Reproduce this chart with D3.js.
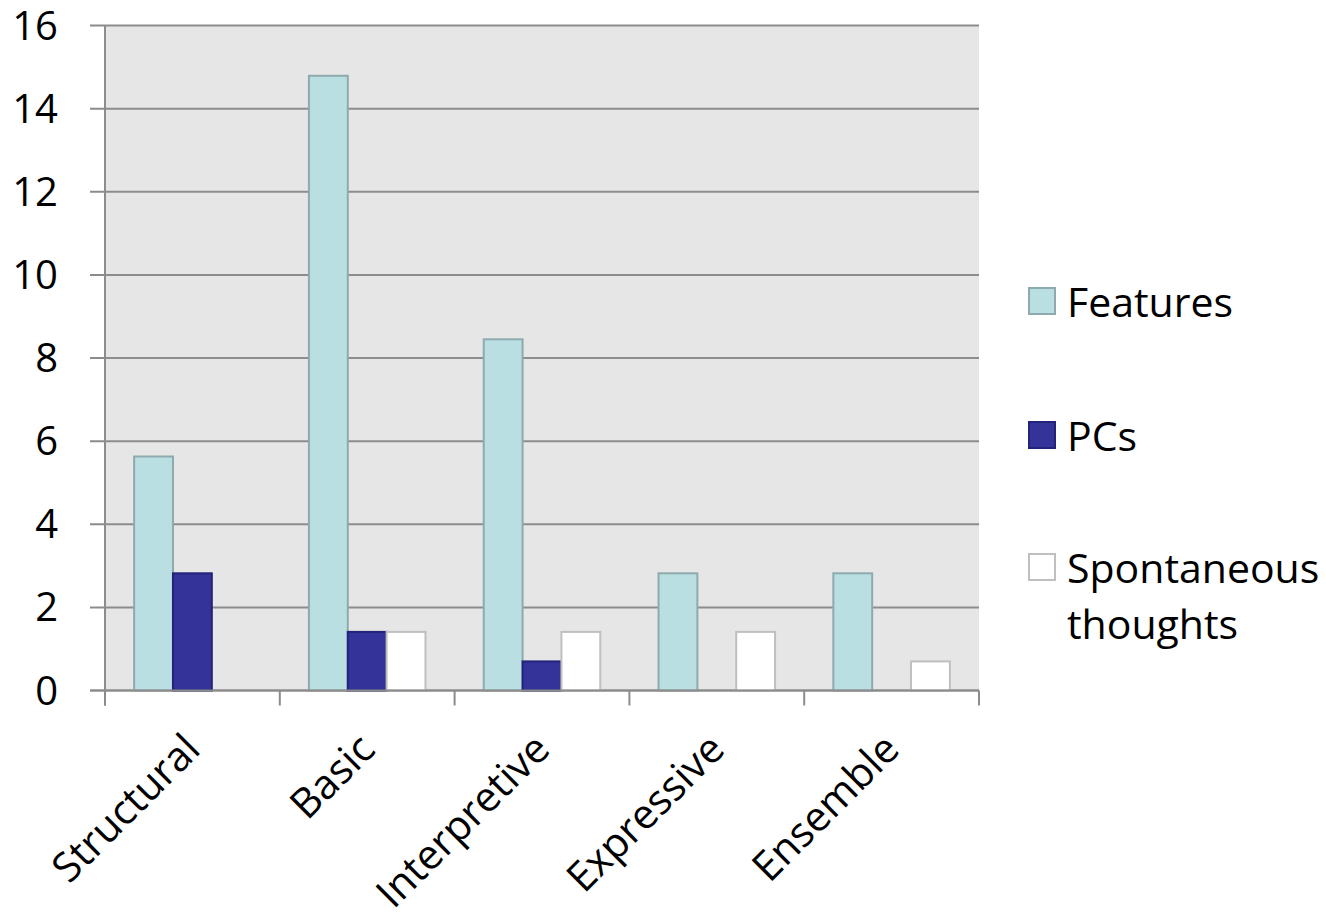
<!DOCTYPE html>
<html>
<head>
<meta charset="utf-8">
<script src="https://cdn.jsdelivr.net/npm/d3@7"></script>
<style>
  html, body { margin: 0; padding: 0; background: #fff; }
  svg { display: block; font-family: "Open Sans", "Noto Sans", sans-serif; }
</style>
</head>
<body>
<svg id="chart" width="1326" height="916"></svg>
<script>
// Categories and series values
const categories = ["Structural", "Basic", "Interpretive", "Expressive", "Ensemble"];
const seriesNames = ["Features", "PCs", "Spontaneous thoughts"];
const features = [5.63, 14.79, 8.45, 2.82, 2.82];
const pcs = [2.82, 1.41, 0.70, 0, 0];
const spontaneous = [0, 1.41, 1.41, 1.41, 0.70];
const yTicks = [0, 2, 4, 6, 8, 10, 12, 14, 16];

const seriesValues = [features, pcs, spontaneous];
const fills = ["#B9DFE2", "#333399", "#FFFFFF"];
const strokes = ["#8FAAAD", "#23237A", "#BFBFBF"];

const svg = d3.select("#chart");
const plot = { left: 105, right: 979, top: 25.5, bottom: 690.5 };
const gridColor = "#8C8C8C";

const x = d3.scaleBand().domain(categories).range([plot.left, plot.right]).paddingInner(0).paddingOuter(0);
const xInner = d3.scaleBand().domain(seriesNames).range([0, x.bandwidth()]).paddingInner(0).paddingOuter(0.75);
const y = d3.scaleLinear().domain([0, 16]).range([plot.bottom, plot.top]);

// plot background
svg.append("rect")
  .attr("x", plot.left).attr("y", plot.top)
  .attr("width", plot.right - plot.left).attr("height", plot.bottom - plot.top)
  .attr("fill", "#E6E6E6");

// horizontal gridlines with left tick stubs
svg.append("g").selectAll("line").data(yTicks).join("line")
  .attr("x1", plot.left - 15).attr("x2", plot.right)
  .attr("y1", d => y(d)).attr("y2", d => y(d))
  .attr("stroke", gridColor).attr("stroke-width", 2);

// y tick labels
svg.append("g").selectAll("text").data(yTicks).join("text")
  .attr("x", 58).attr("y", d => y(d) + 14)
  .attr("text-anchor", "end")
  .attr("font-size", 40).attr("fill", "#000")
  .text(d => d);

// bars
const groups = svg.append("g").selectAll("g").data(categories).join("g")
  .attr("transform", c => `translate(${x(c)},0)`);

groups.selectAll("rect")
  .data((c, i) => seriesNames.map((s, j) => ({ s, j, v: seriesValues[j][i] })).filter(d => d.v > 0))
  .join("rect")
  .attr("x", d => xInner(d.s))
  .attr("y", d => y(d.v))
  .attr("width", xInner.bandwidth())
  .attr("height", d => y(0) - y(d.v))
  .attr("fill", d => fills[d.j])
  .attr("stroke", d => strokes[d.j])
  .attr("stroke-width", 2);

// axes lines
svg.append("line")
  .attr("x1", plot.left).attr("x2", plot.left)
  .attr("y1", plot.top).attr("y2", plot.bottom + 15)
  .attr("stroke", gridColor).attr("stroke-width", 2);
svg.append("line")
  .attr("x1", plot.left - 15).attr("x2", plot.right)
  .attr("y1", plot.bottom).attr("y2", plot.bottom)
  .attr("stroke", gridColor).attr("stroke-width", 2);

// x tick marks at category boundaries
const boundaries = categories.map(c => x(c)).concat([plot.right]);
svg.append("g").selectAll("line").data(boundaries).join("line")
  .attr("x1", d => d).attr("x2", d => d)
  .attr("y1", plot.bottom).attr("y2", plot.bottom + 15)
  .attr("stroke", gridColor).attr("stroke-width", 2);

// rotated category labels
svg.append("g").selectAll("text").data(categories).join("text")
  .attr("transform", c => `translate(${x(c) + x.bandwidth() / 2 + 10},${plot.bottom + 61}) rotate(-45)`)
  .attr("text-anchor", "end")
  .attr("font-size", 41).attr("fill", "#000")
  .text(c => c);

// legend
const legendRows = [
  { name: ["Features"], y: 301 },
  { name: ["PCs"], y: 435 },
  { name: ["Spontaneous", "thoughts"], y: 567 }
];
const legend = svg.append("g");
legendRows.forEach((r, i) => {
  legend.append("rect")
    .attr("x", 1029).attr("y", r.y - 13)
    .attr("width", 26).attr("height", 26)
    .attr("fill", fills[i]).attr("stroke", strokes[i]).attr("stroke-width", 2);
  const t = legend.append("text")
    .attr("x", 1067).attr("y", r.y)
    .attr("font-size", 41).attr("fill", "#000")
    .attr("dominant-baseline", "central");
  r.name.forEach((line, k) => {
    t.append("tspan").attr("x", 1067).attr("dy", k === 0 ? 0 : 56).text(line);
  });
});
</script>
</body>
</html>
